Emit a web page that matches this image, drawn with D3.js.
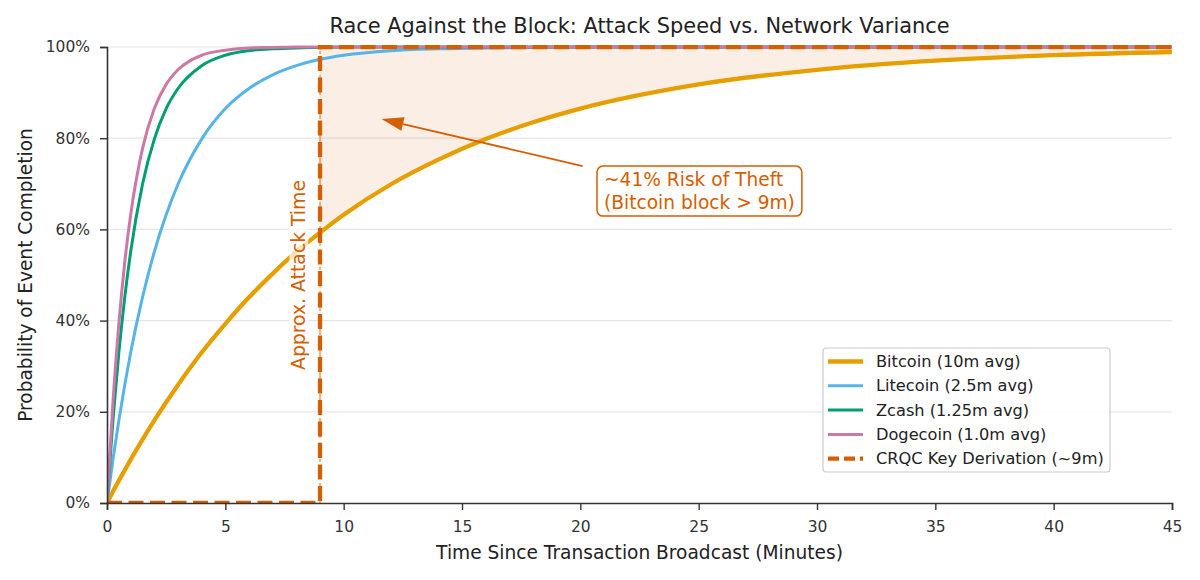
<!DOCTYPE html>
<html>
<head>
<meta charset="utf-8">
<script src="https://cdn.jsdelivr.net/npm/d3@7"></script>
<style>
  body { margin: 0; background: #fff; }
  text { font-family: "DejaVu Sans", sans-serif; }
</style>
</head>
<body>
<div id="chart"></div>
<script>
// data (probability a block has been found by minute t)
const minutes  = [0, 0.25, 0.5, 0.75, 1, 1.5, 2, 2.5, 3, 4, 5, 6, 7, 8, 9, 10, 12, 14, 16, 18, 20, 25, 30, 35, 40, 45];
const bitcoin  = [0, 0.025, 0.049, 0.072, 0.095, 0.139, 0.181, 0.221, 0.259, 0.330, 0.393, 0.451, 0.503, 0.551, 0.593, 0.632, 0.699, 0.753, 0.798, 0.835, 0.865, 0.918, 0.950, 0.970, 0.982, 0.989];
const litecoin = [0, 0.095, 0.181, 0.259, 0.330, 0.451, 0.551, 0.632, 0.699, 0.798, 0.865, 0.909, 0.939, 0.959, 0.973, 0.982, 0.992, 0.996, 0.998, 0.999, 1, 1, 1, 1, 1, 1];
const zcash    = [0, 0.181, 0.330, 0.451, 0.551, 0.699, 0.798, 0.865, 0.909, 0.959, 0.982, 0.992, 0.996, 0.998, 0.999, 1, 1, 1, 1, 1, 1, 1, 1, 1, 1, 1];
const dogecoin = [0, 0.221, 0.393, 0.528, 0.632, 0.777, 0.865, 0.918, 0.950, 0.982, 0.993, 0.998, 0.999, 1, 1, 1, 1, 1, 1, 1, 1, 1, 1, 1, 1, 1];

const seriesNames  = ["Bitcoin (10m avg)", "Litecoin (2.5m avg)", "Zcash (1.25m avg)", "Dogecoin (1.0m avg)"];
const seriesValues = [bitcoin, litecoin, zcash, dogecoin];
const seriesColors = ["#E69F00", "#56B4E9", "#009E73", "#CC79A7"];
const seriesWidths = [4.3, 3, 3, 3];

// CRQC step: nothing until ~9 minutes, then done
const attackTime  = 9;
const crqcName    = "CRQC Key Derivation (~9m)";
const crqcTimes   = [0, 9, 9, 45];
const crqcValues  = [0, 0, 1, 1];
const crqcColor   = "#D55E00";

const xTicks = [0, 5, 10, 15, 20, 25, 30, 35, 40, 45];
const yTicks = [0, 0.2, 0.4, 0.6, 0.8, 1];

// annotation (data coords)
const arrowTip   = [11.6, 0.842];
const arrowTail  = [20.1, 0.739];
const noteAnchor = [21.0, 0.684];
const noteLines  = ["~41% Risk of Theft", "(Bitcoin block > 9m)"];
const vLabel     = { t: 8.1, p: 0.5, text: "Approx. Attack Time" };

const margin = { top: 47, right: 28, bottom: 77, left: 107 },
      width = 1200 - margin.left - margin.right,
      height = 580 - margin.top - margin.bottom;

const root = d3.select("#chart").append("svg")
  .attr("width", 1200)
  .attr("height", 580);

const svg = root.append("g")
  .attr("transform", `translate(${margin.left},${margin.top})`);

const x = d3.scaleLinear().domain([0, 45]).range([0, width]);
const y = d3.scaleLinear().domain([0, 1]).range([height, 0]);

svg.append("defs").append("clipPath").attr("id", "plotclip")
  .append("rect").attr("x", 0).attr("y", -2).attr("width", width + 2).attr("height", height + 2);

// grid
svg.append("g").selectAll("line")
  .data(yTicks.filter(d => d > 0))
  .enter().append("line")
  .attr("x1", 0).attr("x2", width)
  .attr("y1", d => y(d)).attr("y2", d => y(d))
  .attr("stroke", "#e6e6e6").attr("stroke-width", 1.2);

const plot = svg.append("g").attr("clip-path", "url(#plotclip)");

// shaded risk region: between bitcoin curve and 100% after attack time
const riskPts = minutes.map((t, i) => [t, bitcoin[i]]).filter(d => d[0] >= attackTime);
plot.append("path")
  .datum(riskPts)
  .attr("d", d3.area().x(d => x(d[0])).y0(d => y(d[1])).y1(y(1)).curve(d3.curveMonotoneX))
  .attr("fill", crqcColor).attr("fill-opacity", 0.1);

// series lines
const line = d3.line().x(d => x(d[0])).y(d => y(d[1])).curve(d3.curveMonotoneX);
seriesValues.forEach((vals, k) => {
  plot.append("path")
    .datum(minutes.map((t, i) => [t, vals[i]]))
    .attr("d", line)
    .attr("fill", "none")
    .attr("stroke", seriesColors[k])
    .attr("stroke-width", seriesWidths[k])
    .attr("stroke-linejoin", "round");
});

// light dash-dot marker at attack time
plot.append("line")
  .attr("x1", x(attackTime)).attr("x2", x(attackTime))
  .attr("y1", y(0)).attr("y2", y(1))
  .attr("stroke", crqcColor).attr("stroke-opacity", 0.45)
  .attr("stroke-width", 2.2)
  .attr("stroke-dasharray", "13,4,3,4");

// CRQC step
plot.append("path")
  .datum(crqcTimes.map((t, i) => [t, crqcValues[i]]))
  .attr("d", d3.line().x(d => x(d[0])).y(d => y(d[1])))
  .attr("fill", "none")
  .attr("stroke", crqcColor)
  .attr("stroke-width", 4.3)
  .attr("stroke-dasharray", "15,6.5");

// rotated label with faint white box
const vl = svg.append("g")
  .attr("transform", `translate(${x(vLabel.t)},${y(vLabel.p)}) rotate(-90)`);
const vlText = vl.append("text")
  .attr("text-anchor", "middle").attr("dy", "0.35em")
  .style("font-size", "18.8px").style("fill", crqcColor)
  .text(vLabel.text);
const vb = vlText.node().getBBox();
vl.insert("rect", "text")
  .attr("x", vb.x - 2).attr("y", vb.y + 1).attr("width", vb.width + 4).attr("height", vb.height - 2)
  .attr("fill", "#fff").attr("fill-opacity", 0.7);

// arrow
const tip = [x(arrowTip[0]), y(arrowTip[1])],
      tail = [x(arrowTail[0]), y(arrowTail[1])];
const ang = Math.atan2(tip[1] - tail[1], tip[0] - tail[0]);
const headL = 22, headW = 7;
const base = [tip[0] - headL * Math.cos(ang), tip[1] - headL * Math.sin(ang)];
svg.append("line")
  .attr("x1", tail[0]).attr("y1", tail[1]).attr("x2", base[0]).attr("y2", base[1])
  .attr("stroke", crqcColor).attr("stroke-width", 1.8);
svg.append("path")
  .attr("d", `M${tip[0]},${tip[1]}L${base[0] - headW * Math.sin(ang)},${base[1] + headW * Math.cos(ang)}L${base[0] + headW * Math.sin(ang)},${base[1] - headW * Math.cos(ang)}Z`)
  .attr("fill", crqcColor);

// annotation box
const note = svg.append("g")
  .attr("transform", `translate(${x(noteAnchor[0])},${y(noteAnchor[1])})`);
const noteText = note.append("text")
  .style("font-size", "18.6px").style("fill", crqcColor);
noteText.selectAll("tspan").data(noteLines).enter().append("tspan")
  .attr("x", 0)
  .attr("y", (d, i) => (i - 0.5) * 23)
  .attr("dy", "0.35em")
  .text(d => d);
const nb = noteText.node().getBBox();
note.insert("rect", "text")
  .attr("x", nb.x - 7).attr("y", nb.y - 3)
  .attr("width", nb.width + 14).attr("height", nb.height + 6)
  .attr("rx", 6)
  .attr("fill", "#fff").attr("stroke", crqcColor).attr("stroke-width", 1.5);

// axes
const gx = svg.append("g")
  .attr("transform", `translate(0,${height})`)
  .call(d3.axisBottom(x).tickValues(xTicks).tickSizeOuter(0).tickSize(7).tickPadding(8));
const gy = svg.append("g")
  .call(d3.axisLeft(y).tickValues(yTicks).tickFormat(d3.format(".0%")).tickSizeOuter(0).tickSize(7).tickPadding(10));
[gx, gy].forEach(g => {
  g.select(".domain").attr("stroke", "#333").attr("stroke-width", 1.6);
  g.selectAll(".tick line").attr("stroke", "#333").attr("stroke-width", 1.4);
  g.selectAll(".tick text").style("font-size", "15.5px").style("fill", "#333")
    .style("font-family", "'DejaVu Sans', sans-serif");
});
gx.selectAll(".tick text").attr("dy", "0.9em");

// titles
root.append("text")
  .attr("x", margin.left + width / 2).attr("y", 33)
  .attr("text-anchor", "middle")
  .style("font-size", "20.9px").style("fill", "#222")
  .text("Race Against the Block: Attack Speed vs. Network Variance");
root.append("text")
  .attr("x", margin.left + width / 2).attr("y", 559)
  .attr("text-anchor", "middle")
  .style("font-size", "18.6px").style("fill", "#222")
  .text("Time Since Transaction Broadcast (Minutes)");
root.append("text")
  .attr("transform", `translate(32,${margin.top + height / 2}) rotate(-90)`)
  .attr("text-anchor", "middle")
  .style("font-size", "18.6px").style("fill", "#222")
  .text("Probability of Event Completion");

// legend
const legendItems = seriesNames.map((n, i) => ({ name: n, color: seriesColors[i], w: seriesWidths[i], dash: null }))
  .concat([{ name: crqcName, color: crqcColor, w: 4.3, dash: "11,5" }]);
const lg = root.append("g").attr("transform", "translate(823,348)");
lg.append("rect")
  .attr("width", 287).attr("height", 124).attr("rx", 3)
  .attr("fill", "#fff").attr("fill-opacity", 0.85)
  .attr("stroke", "#cccccc").attr("stroke-width", 1.2);
const li = lg.selectAll("g.item").data(legendItems).enter().append("g")
  .attr("class", "item")
  .attr("transform", (d, i) => `translate(0,${13.5 + i * 24.3})`);
li.append("line")
  .attr("x1", 5).attr("x2", 40)
  .attr("stroke", d => d.color).attr("stroke-width", d => d.w)
  .attr("stroke-dasharray", d => d.dash);
li.append("text")
  .attr("x", 53).attr("dy", "0.35em")
  .style("font-size", "16.2px").style("fill", "#222")
  .text(d => d.name);
</script>
</body>
</html>
